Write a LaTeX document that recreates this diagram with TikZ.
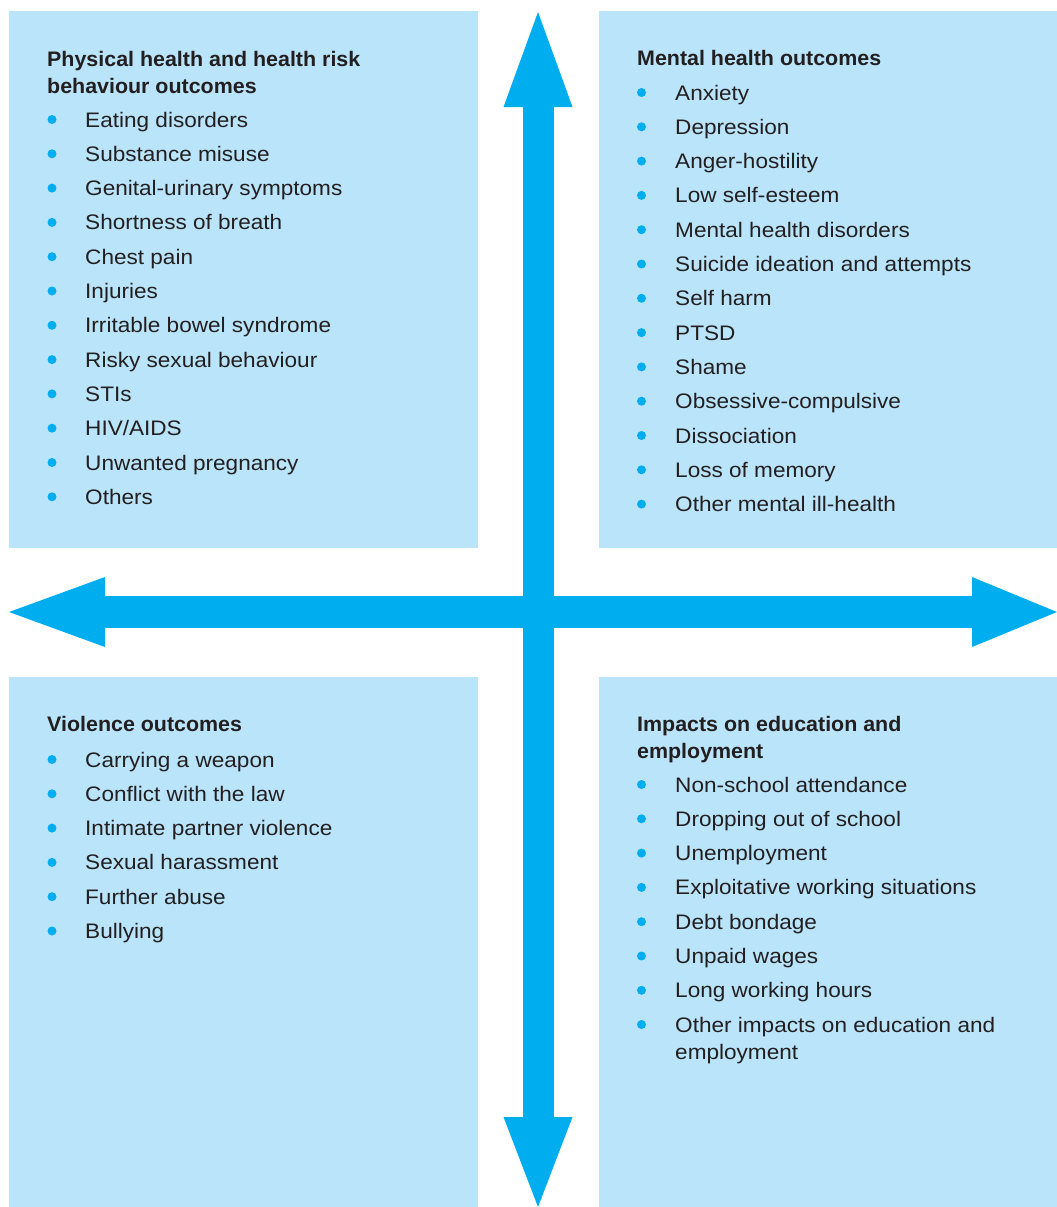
\documentclass[tikz,border=0pt]{standalone}
\usepackage{fontspec}
\setmainfont{Liberation Sans}
\newfontfamily\itemfont[FakeStretch=1.075]{Liberation Sans}
\newfontfamily\headfont[FakeStretch=1.02]{Liberation Sans}
\usetikzlibrary{arrows.meta}
\definecolor{boxblue}{RGB}{185,228,249}
\definecolor{crossblue}{RGB}{0,174,239}
\definecolor{textgray}{RGB}{35,31,32}
\newcommand\bodysize{\fontsize{21}{27}\selectfont}

\begin{document}
\begin{tikzpicture}[
    x=1pt, y=-1pt,
    headtext/.style={anchor=base west, inner sep=0, align=left,
                     text=textgray, font=\headfont\bodysize\bfseries},
    itemtext/.style={anchor=base west, inner sep=0, align=left,
                     text=textgray, font=\itemfont\bodysize},
    bulletdot/.style={fill=crossblue}
]

% ============================================================
% Global dimensions
% ============================================================
\def\rowH{34.3}
\def\bulletL{52}
\def\textL{85}
\def\bulletR{641.5}
\def\textR{675}

\useasboundingbox (0,0) rectangle (1057,1207);

% ============================================================
% Quadrant panels
% ============================================================
\fill[boxblue] (9,11) rectangle (478,548);
\fill[boxblue] (599,11) rectangle (1057,548);
\fill[boxblue] (9,677) rectangle (478,1207);
\fill[boxblue] (599,677) rectangle (1057,1207);

% ============================================================
% Cross of arrows
% ============================================================
\coordinate (north) at (538,12);
\coordinate (south) at (538,1207);
\coordinate (west) at (9,612);
\coordinate (east) at (1057,612);

\draw[crossblue, line width=31pt,
      {Triangle[length=95pt,width=69pt,line width=0pt]}-{Triangle[length=90pt,width=69pt,line width=0pt]}]
    (north) -- (south);
\draw[crossblue, line width=32pt,
      {Triangle[length=96pt,width=70pt,line width=0pt]}-{Triangle[length=85pt,width=70pt,line width=0pt]}]
    (west) -- (east);

% ============================================================
% TOP LEFT: physical health
% ============================================================
% (two-line texts sit on the baseline of their last line)
\node[headtext] (physHead) at (47,93)
    {Physical health and health risk\\behaviour outcomes};
\foreach \entry [count=\i from 0] in {Eating disorders, Substance misuse,
    Genital-urinary symptoms, Shortness of breath, Chest pain, Injuries,
    Irritable bowel syndrome, Risky sexual behaviour, STIs, HIV/AIDS,
    Unwanted pregnancy, Others} {
    \pgfmathsetmacro\yy{127+\i*\rowH}
    \fill[bulletdot] (\bulletL,\yy-7.5) circle (4.5);
    \node[itemtext] (phys\i) at (\textL,\yy) {\entry};
}

% ============================================================
% TOP RIGHT: mental health
% ============================================================
\node[headtext] (mentHead) at (637,66) {Mental health outcomes};
\foreach \entry [count=\i from 0] in {Anxiety, Depression, Anger-hostility,
    Low self-esteem, Mental health disorders, Suicide ideation and attempts,
    Self harm, PTSD, Shame, Obsessive-compulsive, Dissociation,
    Loss of memory, Other mental ill-health} {
    \pgfmathsetmacro\yy{100+\i*\rowH}
    \fill[bulletdot] (\bulletR,\yy-7.5) circle (4.5);
    \node[itemtext] (ment\i) at (\textR,\yy) {\entry};
}

% ============================================================
% BOTTOM LEFT: violence
% ============================================================
\node[headtext] (violHead) at (47,731) {Violence outcomes};
\foreach \entry [count=\i from 0] in {Carrying a weapon,
    Conflict with the law, Intimate partner violence, Sexual harassment,
    Further abuse, Bullying} {
    \pgfmathsetmacro\yy{767+\i*\rowH}
    \fill[bulletdot] (\bulletL,\yy-7.5) circle (4.5);
    \node[itemtext] (viol\i) at (\textL,\yy) {\entry};
}

% ============================================================
% BOTTOM RIGHT: education and employment
% ============================================================
\node[headtext] (eduHead) at (637,758)
    {Impacts on education and\\employment};
\foreach \entry [count=\i from 0] in {Non-school attendance,
    Dropping out of school, Unemployment, Exploitative working situations,
    Debt bondage, Unpaid wages, Long working hours} {
    \pgfmathsetmacro\yy{792+\i*\rowH}
    \fill[bulletdot] (\bulletR,\yy-7.5) circle (4.5);
    \node[itemtext] (edu\i) at (\textR,\yy) {\entry};
}
\fill[bulletdot] (\bulletR,1032-7.5) circle (4.5);
\node[itemtext] (edu7) at (\textR,1059)
    {Other impacts on education and\\employment};

\end{tikzpicture}
\end{document}
